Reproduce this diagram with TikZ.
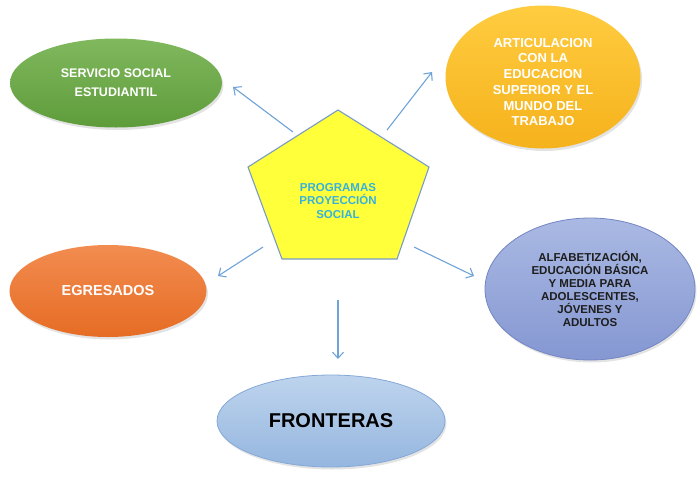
\documentclass[tikz,border=0pt]{standalone}
\usepackage{fontspec}
\setmainfont{Liberation Sans}
\usetikzlibrary{shapes.geometric,arrows.meta,shadows}
\definecolor{arrowblue}{HTML}{6FA3D8}
\definecolor{penttext}{HTML}{36B2DC}
\definecolor{pentfill}{HTML}{FFFF3A}
\definecolor{pentline}{HTML}{7A9BC6}
\definecolor{greenT}{HTML}{80B85E}
\definecolor{greenB}{HTML}{5E9C3A}
\definecolor{yellowT}{HTML}{FFCC40}
\definecolor{yellowB}{HTML}{F5B21C}
\definecolor{blueT}{HTML}{AAB9E3}
\definecolor{blueB}{HTML}{8597D2}
\definecolor{blueL}{HTML}{7385C3}
\definecolor{orangeT}{HTML}{F28C50}
\definecolor{orangeB}{HTML}{E66C24}
\definecolor{frontT}{HTML}{BED4ED}
\definecolor{frontB}{HTML}{95B6DF}
\definecolor{frontL}{HTML}{84A8D7}
\definecolor{darktext}{HTML}{1E1E1E}
\tikzset{
  ellbox/.style={ellipse, inner sep=0pt, align=center,
    drop shadow={opacity=0.22, shadow xshift=1.5pt, shadow yshift=-2.5pt}},
  arr/.style={draw=arrowblue, line width=1.1pt,
    -{Straight Barb[length=6pt,width=11pt,line width=1.1pt]}},
  txt/.style={align=center, inner sep=0pt}
}
\begin{document}
\begin{tikzpicture}[x=1pt,y=-1pt]
\useasboundingbox (0,0) rectangle (700,477);

% central pentagon
\coordinate (pTop) at (338,110);
\coordinate (pRight) at (429,167);
\coordinate (pBR) at (397,259);
\coordinate (pBL) at (282,259);
\coordinate (pLeft) at (248,167);
\draw[fill=pentfill, draw=pentline, line width=1.1pt, line join=miter]
  (pTop) -- (pRight) -- (pBR) -- (pBL) -- (pLeft) -- cycle;
\node[txt, text=penttext, font=\fontsize{11.5}{13.5}\selectfont\bfseries]
  (prog) at (338,201) {PROGRAMAS\\PROYECCIÓN\\SOCIAL};

% surrounding ellipses
\node[ellbox, minimum width=212pt, minimum height=89pt,
  top color=greenT, bottom color=greenB, text=white,
  font=\fontsize{12.5}{19}\selectfont\bfseries]
  (serv) at (116,83) {SERVICIO SOCIAL\\ESTUDIANTIL};

\node[ellbox, minimum width=195pt, minimum height=143pt,
  top color=yellowT, bottom color=yellowB] (artic) at (543,77) {};
\node[txt, text=white, font=\fontsize{13}{15.7}\selectfont\bfseries]
  (articT) at (543,82) {ARTICULACION\\CON LA\\EDUCACION\\SUPERIOR Y EL\\MUNDO DEL\\TRABAJO};

\node[ellbox, minimum width=210pt, minimum height=142pt,
  top color=blueT, bottom color=blueB, draw=blueL, line width=0.8pt,
  text=darktext, font=\fontsize{11.5}{13}\selectfont\bfseries]
  (alfa) at (590,289) {ALFABETIZACIÓN,\\EDUCACIÓN BÁSICA\\Y MEDIA PARA\\ADOLESCENTES,\\JÓVENES Y\\ADULTOS};

\node[ellbox, minimum width=197pt, minimum height=92pt,
  top color=orangeT, bottom color=orangeB, text=white,
  font=\fontsize{14.5}{17}\selectfont\bfseries]
  (egre) at (108,291) {EGRESADOS};

\node[ellbox, minimum width=228pt, minimum height=92pt,
  top color=frontT, bottom color=frontB, draw=frontL, line width=0.8pt,
  text=black, font=\fontsize{20}{24}\selectfont\bfseries]
  (front) at (331,421) {FRONTERAS};

% connectors
\coordinate (s1) at (293,132); \coordinate (e1) at (233,87);
\coordinate (s2) at (387,130); \coordinate (e2) at (432,72);
\coordinate (s3) at (263,247); \coordinate (e3) at (218,276);
\coordinate (s4) at (414,247); \coordinate (e4) at (474,276);
\coordinate (s5) at (338,300); \coordinate (e5) at (338,359);
\draw[arr] (s1) -- (e1);
\draw[arr] (s2) -- (e2);
\draw[arr] (s3) -- (e3);
\draw[arr] (s4) -- (e4);
\draw[arr] (s5) -- (e5);
\end{tikzpicture}
\end{document}
